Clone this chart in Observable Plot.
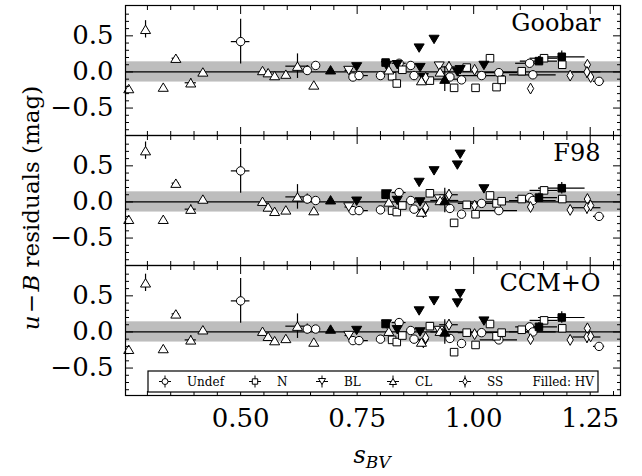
<!DOCTYPE html>
<html><head><meta charset="utf-8">
<script src="https://cdn.jsdelivr.net/npm/d3@7"></script>
<script src="https://cdn.jsdelivr.net/npm/@observablehq/plot@0.6"></script>
<style>
body{margin:0;background:white;}
#chart{position:relative;width:642px;height:476px;font-family:"DejaVu Serif",serif;color:black;overflow:hidden;background:white}
.panel{position:absolute;left:0}
#ytitle{position:absolute;left:31px;top:208px;transform:translate(-50%,-50%) rotate(-90deg);white-space:nowrap;font-size:23px}
#xtitle{position:absolute;left:372px;top:442px;transform:translateX(-50%);white-space:nowrap;font-size:24px;font-style:italic;line-height:26px}
#xtitle sub{font-size:17px;vertical-align:-5px;line-height:0}
</style></head><body><div id="chart"></div>
<script>
// ---- data ----
const panelNames = ["Goobar", "F98", "CCM+O"];
const typeNames = ["Undef", "N", "BL", "CL", "SS"];
const sBV = [0.260,0.296,0.334,0.361,0.393,0.419,0.500,0.547,0.559,0.573,0.597,0.622,0.643,0.661,0.657,0.693,0.732,0.749,0.741,0.754,
  0.800,0.811,0.813,0.818,0.825,0.835,0.836,0.840,0.847,0.865,0.872,0.883,0.885,0.888,0.892,0.897,0.906,0.915,0.926,0.928,
  0.938,0.947,0.949,0.958,0.965,0.971,0.974,0.985,1.002,1.004,1.017,1.022,1.035,1.049,1.054,1.060,1.103,1.120,1.122,1.127,
  1.140,1.151,1.189,1.190,1.207,1.244,1.243,1.251,1.269];
const sampleType = ["CL","CL","CL","CL","CL","CL","Undef","CL","CL","CL","CL","CL","Undef","Undef","CL","CL","BL","BL","Undef","Undef",
  "Undef","N","BL","CL","N","N","BL","Undef","N","Undef","Undef","BL","BL","CL","BL","SS","N","BL","BL","CL",
  "CL","SS","Undef","N","BL","BL","Undef","N","SS","N","Undef","BL","N","N","Undef","N","N","Undef","SS","Undef",
  "N","N","N","N","SS","SS","SS","SS","Undef"];
const hv = [0,0,0,0,0,0,0,0,0,0,0,0,0,0,0,1,0,1,0,0,
  0,1,1,0,0,0,1,0,0,0,0,1,1,0,1,0,0,1,0,0,
  1,0,0,0,1,1,0,0,0,0,0,1,0,0,0,0,0,0,0,0,
  1,0,1,0,0,0,0,0,0];
const resGoobar = [-0.23,0.59,-0.21,0.19,-0.15,0.00,0.42,0.02,-0.01,-0.05,-0.03,0.08,0.02,0.09,-0.18,0.03,0.02,0.07,-0.07,-0.05,
  -0.05,0.13,0.09,0.03,-0.06,-0.16,0.10,0.12,0.03,0.09,-0.05,0.33,0.06,-0.12,-0.08,-0.08,-0.12,0.45,0.08,0.00,
  -0.10,0.07,-0.07,-0.22,0.00,0.03,-0.11,0.06,0.03,-0.22,-0.05,0.09,0.19,-0.21,-0.01,-0.11,0.01,0.12,-0.23,-0.04,
  0.15,0.19,0.21,0.10,-0.05,0.10,0.00,-0.07,-0.13];
const resF98 = [-0.24,0.71,-0.24,0.26,-0.10,0.04,0.43,0.01,-0.07,-0.13,-0.11,0.07,0.04,0.02,-0.12,0.03,-0.07,0.01,-0.12,-0.12,
  -0.11,0.10,0.11,0.00,-0.12,-0.14,0.02,0.13,-0.05,0.02,-0.10,0.27,0.00,-0.14,-0.16,-0.08,0.12,0.43,0.04,0.02,
  0.02,0.10,-0.09,-0.29,0.51,0.66,-0.17,-0.04,-0.05,-0.17,-0.02,0.18,0.09,-0.02,-0.12,0.01,0.04,0.06,-0.07,0.02,
  0.06,0.16,0.19,0.04,-0.11,0.04,-0.08,-0.05,-0.20];
const resCCMO = [-0.24,0.68,-0.23,0.25,-0.11,0.03,0.43,0.01,-0.06,-0.12,-0.09,0.08,0.04,0.04,-0.14,0.04,-0.05,0.02,-0.12,-0.12,
  -0.10,0.11,0.11,0.01,-0.11,-0.14,0.03,0.13,-0.05,0.02,-0.10,0.29,0.00,-0.14,-0.16,-0.08,0.08,0.43,0.02,0.01,
  0.00,0.10,-0.09,-0.28,0.40,0.53,-0.16,-0.01,-0.03,-0.18,-0.01,0.15,0.11,-0.06,-0.11,-0.01,0.03,0.07,-0.10,0.00,
  0.07,0.16,0.20,0.05,-0.11,0.05,-0.07,-0.06,-0.20];
const errS = [0,0.004,0,0.008,0.012,0,0.02,0,0,0,0,0.025,0.008,0,0,0,0.008,0,0,0.02,
  0,0,0,0,0,0,0,0.015,0,0,0,0,0,0,0,0,0,0,0,0,
  0.03,0.02,0,0,0,0,0,0,0,0,0.05,0,0,0,0.04,0,0,0.03,0,0.05,
  0.04,0.03,0.05,0,0,0,0.03,0,0.012];
const errRes = [0,0.12,0,0.04,0.06,0,0.31,0,0,0,0,0.17,0.07,0,0,0,0.02,0,0,0.05,
  0,0,0,0,0,0,0,0.05,0,0,0,0,0,0,0,0,0,0,0,0,
  0.17,0.07,0,0,0.05,0,0,0,0,0,0.03,0,0,0,0.05,0,0,0,0,0.06,
  0.06,0,0.08,0,0,0,0.09,0,0];
const bandHalfWidth = 0.14;
const xMajorTicks = [0.50, 0.75, 1.00, 1.25];
const xMinorTicks = [0.30,0.35,0.40,0.45,0.55,0.60,0.65,0.70,0.80,0.85,0.90,0.95,1.05,1.10,1.15,1.20,1.30];
const yMajorTicks = [-0.5, 0.0, 0.5];
const yMinorTicks = [-0.8,-0.7,-0.6,-0.4,-0.3,-0.2,-0.1,0.1,0.2,0.3,0.4,0.6,0.7,0.8];
const residuals = [resGoobar, resF98, resCCMO];

// ---- symbols ----
const symbols = {
  Undef: {draw(c, s) { const r = Math.sqrt(s / Math.PI); c.moveTo(r, 0); c.arc(0, 0, r, 0, 2 * Math.PI); c.closePath(); }},
  N: {draw(c, s) { const r = Math.sqrt(s / Math.PI) * 0.9; c.moveTo(-r, -r); c.lineTo(r, -r); c.lineTo(r, r); c.lineTo(-r, r); c.closePath(); }},
  BL: {draw(c, s) { const r = Math.sqrt(s / Math.PI); c.moveTo(0, 1.0 * r); c.lineTo(1.2 * r, -1.0 * r); c.lineTo(-1.2 * r, -1.0 * r); c.closePath(); }},
  CL: {draw(c, s) { const r = Math.sqrt(s / Math.PI); c.moveTo(0, -1.0 * r); c.lineTo(1.2 * r, 1.0 * r); c.lineTo(-1.2 * r, 1.0 * r); c.closePath(); }},
  SS: {draw(c, s) { const r = Math.sqrt(s / Math.PI); c.moveTo(0, -1.3 * r); c.lineTo(0.75 * r, 0); c.lineTo(0, 1.3 * r); c.lineTo(-0.75 * r, 0); c.closePath(); }}
};

const W = 642, ML = 125, MR = 22, PH = 130;
const panelTops = [5, 135, 265];
const xDomain = [0.253, 1.315];
const yDomain = [-0.88, 0.92];
const chart = document.getElementById("chart");

panelNames.forEach((name, i) => {
  const rows = sBV.map((x, k) => ({x, y: residuals[i][k], t: sampleType[k], hv: hv[k], ex: errS[k], ey: errRes[k]}));
  const mt = 5, mb = i === 2 ? 80 : 5;
  const tickOpts = {label: null, fill: "none", stroke: "black", strokeWidth: 1};
  const marks = [
    Plot.rect([bandHalfWidth], {x1: () => xDomain[0], x2: () => xDomain[1], y1: d => -d, y2: d => d, fill: "#bdbdbd"}),
    Plot.ruleY([0], {stroke: "black", strokeWidth: 1.2}),
    Plot.ruleY(rows.filter(d => d.ex > 0), {x1: d => d.x - d.ex, x2: d => d.x + d.ex, y: "y", stroke: "black", strokeWidth: 1.2}),
    Plot.ruleX(rows.filter(d => d.ey > 0), {x: "x", y1: d => d.y - d.ey, y2: d => d.y + d.ey, stroke: "black", strokeWidth: 1.2})
  ];
  typeNames.forEach(t => {
    marks.push(Plot.dot(rows.filter(d => d.t === t && !d.hv), {x: "x", y: "y", symbol: symbols[t], r: 4.2, stroke: "black", strokeWidth: 1, fill: "white"}));
    marks.push(Plot.dot(rows.filter(d => d.t === t && d.hv), {x: "x", y: "y", symbol: symbols[t], r: 4.2, stroke: "black", strokeWidth: 1, fill: "black"}));
  });
  marks.push(
    Plot.frame({stroke: "black", strokeWidth: 1.2}),
    Plot.axisY(yMajorTicks, {...tickOpts, anchor: "left", tickSize: -8}),
    Plot.axisY(yMinorTicks, {...tickOpts, anchor: "left", tickSize: -4}),
    Plot.axisY(yMajorTicks, {...tickOpts, anchor: "right", tickSize: -8}),
    Plot.axisY(yMinorTicks, {...tickOpts, anchor: "right", tickSize: -4}),
    Plot.axisX(xMajorTicks, {...tickOpts, anchor: "top", tickSize: -8}),
    Plot.axisX(xMinorTicks, {...tickOpts, anchor: "top", tickSize: -4}),
    Plot.axisX(xMajorTicks, {...tickOpts, anchor: "bottom", tickSize: -8}),
    Plot.axisX(xMinorTicks, {...tickOpts, anchor: "bottom", tickSize: -4}),
    Plot.axisY(yMajorTicks, {anchor: "left", label: null, tickSize: 0, tickPadding: 12, tickFormat: d3.format(".1f"), fontSize: 26, fill: "black"}),
    Plot.text([name], {frameAnchor: "top-right", textAnchor: "end", lineAnchor: "top", dx: -20, dy: 8, fontSize: 24, fill: "black"})
  );
  if (i === 2) marks.push(Plot.axisX(xMajorTicks, {anchor: "bottom", label: null, tickSize: 0, tickPadding: 13, tickFormat: d3.format(".2f"), fontSize: 26, fill: "black"}));
  const svg = Plot.plot({
    width: W, height: PH + mt + mb,
    marginLeft: ML, marginRight: MR, marginTop: mt, marginBottom: mb,
    x: {domain: xDomain}, y: {domain: yDomain},
    style: {background: "transparent", overflow: "visible", fontFamily: "DejaVu Serif", fontSize: "24px", color: "black"},
    marks
  });
  svg.classList.add("panel");
  svg.style.top = (panelTops[i] - mt) + "px";
  svg.style.position = "absolute";
  chart.appendChild(svg);
});

// axis titles
const yt = document.createElement("div");
yt.id = "ytitle";
yt.innerHTML = "<i>u</i>&#8202;&#8722;&#8202;<i>B</i> residuals (mag)";
chart.appendChild(yt);
const xt = document.createElement("div");
xt.id = "xtitle";
xt.innerHTML = "s<sub>BV</sub>";
chart.appendChild(xt);

// legend
const lw = 450, lh = 21;
const leg = d3.create("svg").attr("width", lw + 2).attr("height", lh + 2)
  .style("position", "absolute").style("left", "147px").style("top", "370px").style("overflow", "visible");
leg.append("rect").attr("x", 1).attr("y", 1).attr("width", lw).attr("height", lh).attr("fill", "white").attr("stroke", "black").attr("stroke-width", 1.2);
const legX = [18, 108, 175, 246, 318];
typeNames.forEach((t, k) => {
  const g = leg.append("g").attr("transform", `translate(${legX[k]},${1 + lh / 2})`);
  g.append("line").attr("x1", -6).attr("x2", 6).attr("stroke", "black");
  g.append("line").attr("y1", -6).attr("y2", 6).attr("stroke", "black");
  g.append("path").attr("d", d3.symbol(symbols[t], Math.PI * 9)()).attr("fill", "white").attr("stroke", "black");
  g.append("text").attr("x", 22).attr("y", 4.5).attr("font-size", 12).attr("font-family", "DejaVu Serif").text(t);
});
leg.append("text").attr("x", lw - 3).attr("y", 1 + lh / 2 + 4.5).attr("text-anchor", "end").attr("font-size", 12).attr("font-family", "DejaVu Serif").text("Filled: HV");
chart.appendChild(leg.node());
</script></body></html>
